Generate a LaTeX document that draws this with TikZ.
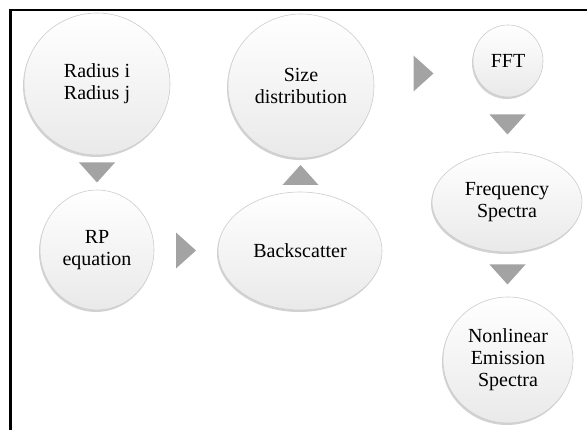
\documentclass[tikz,border=0pt]{standalone}
\usepackage{fontspec}
\setmainfont{Liberation Serif}
\usetikzlibrary{shapes.geometric,shadows,calc}

\tikzset{
  bubble/.style={ellipse, draw=gray!40, line width=0.6pt,
    top color=white, middle color=gray!3, bottom color=gray!17,
    inner sep=0pt, align=center,
    font=\fontsize{20}{22}\selectfont,
    drop shadow={shadow xshift=-1pt, shadow yshift=-2pt, fill=gray!70, opacity=0.5}},
  flowtri/.pic={\fill[gray!72] (-10,-18) -- (10,0) -- (-10,18) -- cycle;}
}

\begin{document}
\begin{tikzpicture}[x=1pt,y=-1pt]
\useasboundingbox (0,0) rectangle (587,430);
% frame
\draw[line width=2.5pt] (587,10) -- (10.5,10) -- (10.5,430);
% left column
\node[bubble, minimum width=146pt, minimum height=142pt] (radius) at (97,84) {Radius i\\Radius j};
\node[bubble, minimum width=114pt, minimum height=120pt] (rp) at (97,250) {RP\\equation};
% middle column
\node[bubble, minimum width=164pt, minimum height=118pt] (backs) at (300,251) {Backscatter};
\node[bubble, minimum width=146pt, minimum height=144pt] (size) at (301,86) {Size\\distribution};
% right column
\node[bubble, minimum width=70pt, minimum height=72pt] (fft) at (508,61) {FFT};
\node[bubble, minimum width=150pt, minimum height=100pt] (freq) at (507,202) {Frequency\\Spectra};
\node[bubble, minimum width=130pt, minimum height=126pt] (nonlin) at (508,360) {Nonlinear\\Emission\\Spectra};
% arrows
\pic[rotate=-90] at ($(radius.south)!0.5!(rp.north)$) {flowtri};
\pic at ($(rp.east)!0.5!(backs.west)$) {flowtri};
\pic[rotate=90] at ($(backs.north)!0.5!(size.south)$) {flowtri};
\pic at ($(size.east)!0.5!(fft.west)$) {flowtri};
\pic[rotate=-90] at ($(fft.south)!0.5!(freq.north)$) {flowtri};
\pic[rotate=-90] at ($(freq.south)!0.5!(nonlin.north)$) {flowtri};
\end{tikzpicture}
\end{document}
